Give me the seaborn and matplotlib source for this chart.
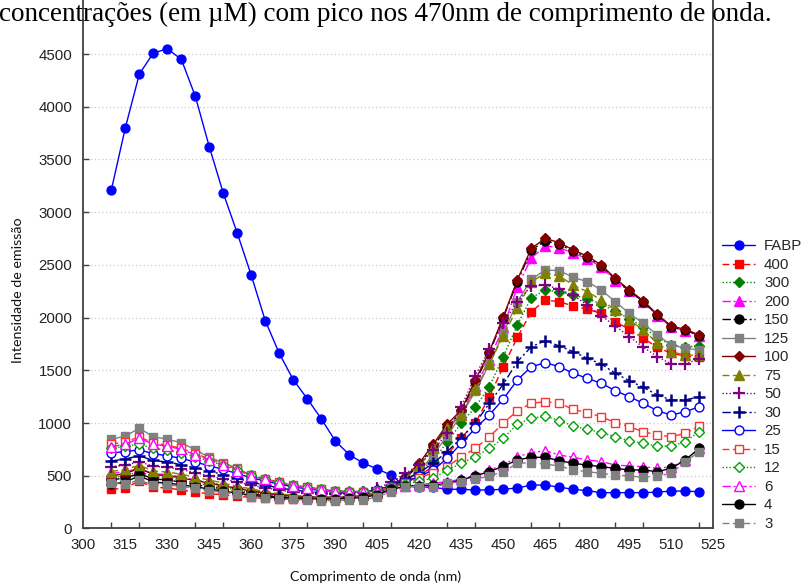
import numpy as np
import pandas as pd
import matplotlib
matplotlib.use("Agg")
import matplotlib.pyplot as plt
import seaborn as sns

# Emission wavelengths (nm), one reading every 5 nm
wavelength = list(range(310, 525, 5))

series_names = ["FABP", "400", "300", "200", "150", "125", "100", "75",
                "50", "30", "25", "15", "12", "6", "4", "3"]

fabp = [3210, 3800, 4310, 4510, 4550, 4450, 4100, 3620, 3180, 2800, 2400, 1970,
        1660, 1410, 1230, 1040, 830, 700, 620, 565, 505, 400, 395, 390, 372, 372,
        365, 365, 372, 384, 412, 412, 391, 372, 358, 340, 340, 340, 340, 345, 355,
        355, 348]
c400 = [370, 385, 450, 390, 385, 365, 345, 330, 320, 305, 295, 285, 280, 278, 280,
        285, 290, 300, 310, 330, 380, 440, 500, 590, 700, 860, 1000, 1250, 1535,
        1813, 2056, 2167, 2151, 2110, 2079, 2041, 1961, 1889, 1804, 1718, 1661,
        1636, 1624]
c300 = [480, 500, 540, 490, 480, 460, 430, 410, 390, 365, 340, 320, 305, 295, 290,
        290, 290, 295, 305, 330, 380, 450, 540, 650, 820, 1000, 1150, 1345, 1630,
        1930, 2190, 2260, 2245, 2215, 2180, 2130, 2060, 1990, 1910, 1810, 1740,
        1720, 1735]
c200 = [520, 540, 570, 520, 510, 490, 460, 435, 410, 385, 360, 340, 320, 310, 300,
        300, 300, 305, 315, 340, 400, 490, 610, 780, 950, 1080, 1350, 1600, 1910,
        2290, 2565, 2680, 2665, 2610, 2560, 2480, 2350, 2250, 2150, 2020, 1910,
        1875, 1830]
c150 = [460, 480, 520, 470, 460, 440, 415, 395, 375, 350, 330, 310, 300, 290, 290,
        290, 292, 298, 310, 335, 390, 480, 600, 780, 960, 1110, 1390, 1660, 2000,
        2340, 2640, 2730, 2695, 2630, 2575, 2490, 2365, 2255, 2150, 2025, 1915,
        1880, 1830]
c125 = [846, 877, 950, 871, 846, 814, 745, 675, 624, 571, 498, 466, 434, 403, 397,
        372, 358, 349, 349, 349, 365, 440, 540, 700, 880, 1080, 1300, 1560, 1850,
        2150, 2363, 2452, 2446, 2382, 2341, 2262, 2151, 2041, 1946, 1835, 1740,
        1709, 1693]
c100 = [500, 520, 571, 510, 500, 480, 455, 430, 405, 380, 355, 335, 320, 305, 300,
        298, 298, 302, 312, 340, 400, 490, 620, 800, 990, 1124, 1408, 1677, 2009,
        2357, 2657, 2752, 2711, 2641, 2584, 2499, 2373, 2262, 2160, 2031, 1920,
        1889, 1835]
c75 = [540, 560, 600, 545, 535, 515, 485, 460, 430, 400, 375, 350, 330, 315, 305,
       300, 300, 305, 315, 340, 400, 480, 590, 760, 950, 1080, 1320, 1560, 1830,
       2088, 2341, 2420, 2394, 2309, 2246, 2167, 2072, 1977, 1883, 1757, 1677,
       1645, 1645]
c50 = [586, 600, 634, 590, 580, 560, 530, 500, 470, 440, 410, 385, 365, 345, 335,
       330, 330, 335, 350, 380, 440, 523, 602, 745, 903, 1155, 1450, 1700, 1950,
       2150, 2300, 2310, 2270, 2210, 2120, 2020, 1920, 1820, 1720, 1630, 1560,
       1560, 1610]
c30 = [640, 660, 690, 645, 630, 605, 575, 545, 510, 475, 440, 410, 385, 365, 350,
       340, 335, 338, 345, 365, 410, 470, 530, 620, 730, 860, 1000, 1187, 1370,
       1582, 1724, 1781, 1731, 1677, 1614, 1560, 1472, 1402, 1339, 1266, 1219,
       1219, 1250]
c25 = [716, 730, 745, 710, 690, 665, 630, 595, 560, 520, 480, 450, 420, 395, 375,
       360, 350, 345, 350, 365, 400, 440, 495, 555, 666, 808, 950, 1076, 1228,
       1408, 1535, 1572, 1535, 1472, 1424, 1377, 1307, 1250, 1187, 1117, 1076,
       1108, 1155]
c15 = [800, 820, 870, 810, 790, 760, 710, 660, 610, 560, 510, 470, 440, 410, 390,
       370, 355, 350, 350, 360, 395, 430, 480, 530, 586, 681, 760, 871, 998, 1117,
       1187, 1203, 1187, 1130, 1098, 1060, 1003, 965, 918, 887, 871, 903, 972]
c12 = [760, 780, 800, 760, 745, 720, 680, 640, 600, 555, 505, 470, 440, 410, 390,
       370, 358, 352, 352, 360, 390, 420, 450, 476, 555, 618, 681, 760, 855, 991,
       1045, 1067, 1022, 972, 941, 909, 871, 833, 808, 782, 782, 823, 918]
c6 = [776, 800, 855, 800, 780, 750, 700, 650, 600, 550, 500, 465, 435, 405, 385,
      365, 350, 345, 345, 355, 380, 400, 415, 430, 444, 467, 507, 555, 602, 681,
      719, 738, 697, 675, 650, 634, 602, 593, 586, 571, 586, 650, 760]
c4 = [420, 440, 500, 440, 430, 415, 395, 375, 355, 335, 315, 300, 290, 285, 282,
      280, 280, 285, 295, 320, 370, 400, 405, 410, 428, 460, 498, 540, 590, 650,
      675, 675, 643, 618, 602, 586, 571, 555, 555, 539, 571, 650, 760]
c3 = [430, 420, 460, 410, 415, 400, 380, 360, 340, 330, 300, 290, 280, 275, 270,
      265, 265, 268, 270, 300, 350, 397, 397, 390, 428, 444, 467, 498, 539, 618,
      624, 611, 593, 555, 539, 523, 507, 498, 486, 498, 523, 634, 728]

values = [fabp, c400, c300, c200, c150, c125, c100, c75,
          c50, c30, c25, c15, c12, c6, c4, c3]

# (colour, line style, marker, filled)
styles = {
    "FABP": ("#0000ff", "-", "o", True),
    "400": ("#ff0000", (0, (5, 2.5)), "s", True),
    "300": ("#008000", (0, (1, 1.5)), "D", True),
    "200": ("#ff00ff", (0, (6, 2, 1.5, 2)), "^", True),
    "150": ("#000000", (0, (6, 2, 1.5, 2)), "o", True),
    "125": ("#808080", "-", "s", True),
    "100": ("#800000", "-", "D", True),
    "75": ("#808000", (0, (5, 2.5)), "^", True),
    "50": ("#800080", (0, (1, 1.5)), "P", True),
    "30": ("#000080", (0, (6, 2, 1.5, 2)), "+", True),
    "25": ("#0000ff", "-", "o", False),
    "15": ("#ff3030", (0, (5, 2.5)), "s", False),
    "12": ("#00a000", (0, (1, 1.5)), "D", False),
    "6": ("#ff00ff", (0, (6, 2, 1.5, 2)), "^", False),
    "4": ("#000000", "-", "o", True),
    "3": ("#808080", (0, (5, 2.5)), "s", True),
}

df = pd.DataFrame({"wavelength": wavelength})
for name, vals in zip(series_names, values):
    df[name] = vals
long_df = df.melt(id_vars="wavelength", var_name="amostra", value_name="intensidade")

sns.set_theme(style="white")
plt.rcParams["font.family"] = ["Liberation Sans", "DejaVu Sans"]

fig = plt.figure(figsize=(8.05, 5.85), dpi=100)
ax = fig.add_axes([0.1035, 0.0966, 0.7826, 0.9191])

for name in series_names:
    color, ls, marker, filled = styles[name]
    sub = long_df[long_df["amostra"] == name]
    ms = 6.4
    if marker == "D":
        ms = 5.4
    elif marker == "^":
        ms = 7.0
    elif marker in ("+", "P"):
        ms = 8.5
    mew = 1.0
    if marker == "+":
        mew = 1.8
    if marker == "P":
        marker = "+"
        mew = 1.6
    sns.lineplot(
        data=sub, x="wavelength", y="intensidade", ax=ax, sort=False,
        estimator=None, color=color, linestyle=ls, linewidth=1.0,
        marker=marker, markersize=ms, markeredgewidth=mew,
        markerfacecolor=color if filled else "white",
        markeredgecolor=color, label=name, legend=False,
    )

ax.set_xlim(300, 525)
ax.set_ylim(0, 5100)

ax.set_xticks(np.arange(300, 526, 15))
ax.set_xticks(np.arange(310, 521, 10), minor=True)
ax.set_yticks(np.arange(0, 4501, 500))

ax.tick_params(axis="x", which="major", length=0, pad=7, labelsize=10.8,
               labelcolor="#222222")
ax.tick_params(axis="x", which="minor", direction="in", length=4, width=1,
               color="#404040", bottom=True)
ax.tick_params(axis="y", which="major", direction="in", length=4, width=1,
               color="#404040", left=True, pad=8, labelsize=10.8,
               labelcolor="#222222")

ax.yaxis.grid(True, linestyle=(0, (1, 2)), color="#c8c8c8", linewidth=0.9)
ax.xaxis.grid(False)

for side in ("left", "bottom", "right"):
    ax.spines[side].set_color("#404040")
    ax.spines[side].set_linewidth(1.3)
ax.spines["top"].set_visible(False)

ax.set_xlabel("")
ax.set_ylabel("")
fig.text(376 / 805, 1 - 577 / 585, "Comprimento de onda (nm)", ha="center",
         va="center", fontsize=10.3, family=["Lato", "DejaVu Sans"], color="#111111")
fig.text(18 / 805, 1 - 290 / 585, "Intensidade de emissão", ha="center",
         va="center", rotation=90, fontsize=10.3, family=["Lato", "DejaVu Sans"],
         color="#111111")

# Caption line above the plot
fig.text(-1 / 805, 1 - 21 / 585,
         "concentrações (em µM) com pico nos 470nm de comprimento de onda.",
         ha="left", va="baseline", fontsize=19.5,
         family=["Liberation Serif", "DejaVu Serif"], color="#000000")

handles, labels = ax.get_legend_handles_labels()
fig.legend(handles, labels, loc="center left",
           bbox_to_anchor=(722 / 805, 1 - 385 / 585), frameon=False,
           fontsize=10.8, handlelength=2.2, handletextpad=0.6,
           labelspacing=0.3, borderpad=0, borderaxespad=0)

fig.savefig("out.png", dpi=100)
